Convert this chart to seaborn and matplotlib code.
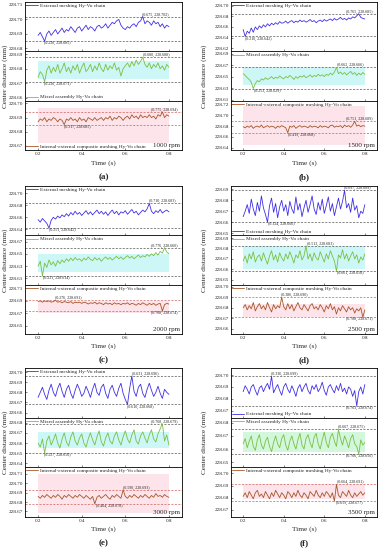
import numpy as np
import pandas as pd
import matplotlib
matplotlib.use("Agg")
import matplotlib.pyplot as plt
from matplotlib.ticker import FormatStrFormatter
import seaborn as sns

# time axis (s)
time = np.round(np.linspace(0.2, 0.8, 61), 3)

# center distance, micrometres above 228 mm
ext_1000 = [689, 691, 688, 685, 690, 692, 689, 691, 693, 690,
            692, 694, 691, 693, 692, 695, 693, 691, 694, 695,
            692, 694, 696, 693, 695, 694, 692, 695, 696, 694,
            695, 697, 694, 696, 698, 697, 699, 700, 696, 694,
            693, 695, 694, 696, 697, 695, 698, 699, 702, 697,
            699, 698, 696, 699, 697, 698, 695, 697, 694, 696, 695]
mix_1000 = [674, 678, 676, 671, 679, 682, 677, 681, 678, 683,
            677, 680, 684, 678, 681, 677, 682, 679, 683, 677,
            681, 684, 678, 680, 683, 678, 682, 679, 684, 680,
            678, 683, 679, 682, 680, 684, 679, 681, 675, 680,
            682, 684, 681, 685, 682, 686, 683, 685, 688, 683,
            681, 684, 680, 683, 681, 684, 680, 682, 679, 683, 681]
comp_1000 = [687, 689, 688, 690, 687, 689, 688, 690, 689, 687,
             689, 688, 685, 689, 688, 690, 688, 689, 687, 690,
             688, 689, 687, 690, 689, 688, 690, 688, 689, 690,
             688, 690, 689, 691, 688, 690, 689, 691, 690, 688,
             690, 691, 689, 692, 690, 691, 689, 692, 690, 691,
             690, 692, 690, 691, 689, 692, 691, 694, 690, 692, 691]

ext_1500 = [655, 642, 652, 648, 658, 650, 660, 655, 662, 658,
            664, 660, 666, 662, 667, 664, 668, 665, 670, 667,
            668, 671, 667, 670, 672, 668, 671, 669, 673, 670,
            672, 669, 671, 674, 670, 672, 668, 671, 673, 670,
            674, 671, 673, 675, 672, 676, 673, 675, 678, 674,
            676, 673, 677, 675, 679, 677, 681, 685, 678, 676, 675]
mix_1500 = [655, 652, 648, 645, 640, 629, 638, 643, 641, 646,
            644, 648, 645, 647, 650, 646, 649, 647, 651, 648,
            646, 650, 648, 652, 649, 645, 650, 647, 651, 649,
            652, 648, 650, 653, 649, 652, 650, 654, 651, 653,
            650, 654, 652, 656, 653, 658, 666, 655, 658, 654,
            657, 653, 656, 659, 654, 657, 652, 656, 653, 657, 654]
comp_1500 = [679, 677, 680, 678, 681, 676, 679, 680, 678, 682,
             677, 679, 681, 678, 680, 679, 676, 680, 678, 681,
             679, 677, 668, 680, 678, 681, 676, 679, 681, 678,
             680, 679, 677, 681, 678, 680, 679, 677, 681, 678,
             680, 679, 677, 681, 682, 678, 680, 679, 681, 677,
             682, 679, 681, 678, 682, 689, 680, 682, 679, 681, 680]

ext_2000 = [656, 652, 658, 654, 650, 642, 655, 660, 657, 662,
            659, 664, 661, 666, 662, 668, 664, 670, 665, 668,
            663, 667, 671, 665, 669, 664, 668, 672, 666, 670,
            665, 669, 663, 668, 672, 666, 670, 664, 669, 667,
            671, 665, 669, 673, 667, 670, 664, 668, 672, 669,
            674, 683, 670, 666, 671, 668, 673, 667, 670, 672, 669]
mix_2000 = [630, 638, 614, 635, 628, 640, 632, 637, 630, 639,
            634, 640, 636, 642, 638, 643, 639, 644, 640, 642,
            638, 643, 640, 645, 641, 639, 644, 640, 643, 638,
            642, 645, 641, 644, 640, 643, 646, 642, 645, 641,
            644, 647, 643, 646, 642, 645, 648, 644, 647, 645,
            649, 646, 650, 647, 652, 648, 654, 651, 660, 653, 650]
comp_2000 = [689, 690, 688, 690, 689, 690, 688, 689, 691, 688,
             689, 687, 689, 688, 687, 689, 686, 688, 687, 688,
             686, 688, 687, 685, 687, 686, 688, 685, 687, 686,
             684, 687, 685, 686, 684, 687, 685, 686, 684, 686,
             685, 687, 684, 686, 685, 683, 686, 684, 687, 685,
             683, 686, 684, 686, 683, 685, 686, 674, 684, 686, 685]

ext_2500 = [665, 670, 676, 668, 681, 672, 666, 678, 670, 684,
            673, 667, 660, 675, 682, 669, 677, 664, 674, 680,
            670, 676, 666, 679, 672, 668, 683, 671, 677, 665,
            673, 680, 669, 676, 684, 672, 667, 678, 671, 681,
            668, 675, 683, 670, 677, 666, 674, 682, 672, 679,
            689, 673, 677, 669, 682, 671, 675, 664, 670, 668, 676]
mix_2500 = [668, 673, 666, 675, 670, 677, 667, 672, 674, 668,
            676, 670, 665, 673, 678, 669, 674, 667, 676, 671,
            668, 675, 670, 677, 672, 666, 674, 671, 678, 669,
            673, 683, 670, 675, 668, 676, 671, 669, 677, 672,
            667, 675, 670, 678, 673, 668, 658, 674, 671, 679,
            670, 675, 668, 673, 677, 670, 674, 666, 672, 669, 675]
comp_2500 = [680, 683, 678, 682, 679, 685, 677, 681, 684, 679,
             682, 678, 685, 680, 676, 683, 679, 682, 680, 690,
             681, 678, 684, 679, 683, 677, 681, 685, 680, 678,
             683, 680, 677, 682, 684, 679, 681, 678, 683, 680,
             676, 682, 679, 684, 678, 681, 674, 680, 677, 682,
             679, 676, 681, 678, 680, 675, 679, 677, 680, 671, 678]

ext_3000 = [675, 680, 685, 678, 673, 682, 688, 680, 676, 684,
            689, 681, 675, 683, 687, 679, 674, 682, 688, 683,
            676, 679, 686, 681, 675, 683, 689, 680, 677, 685,
            688, 679, 674, 683, 687, 680, 676, 684, 689, 679,
            673, 668, 684, 696, 681, 676, 685, 688, 679, 675,
            683, 689, 682, 676, 680, 686, 679, 674, 683, 680, 678]
mix_3000 = [660, 656, 664, 650, 662, 667, 658, 663, 669, 660,
            655, 664, 670, 661, 657, 666, 671, 662, 658, 665,
            669, 660, 656, 664, 670, 663, 658, 666, 672, 661,
            657, 665, 670, 662, 659, 667, 671, 663, 658, 666,
            672, 664, 660, 668, 673, 662, 659, 667, 671, 665,
            660, 668, 673, 664, 661, 669, 674, 679, 662, 668, 658]
comp_3000 = [686, 684, 687, 685, 688, 686, 684, 687, 685, 688,
             686, 683, 687, 685, 688, 686, 684, 687, 685, 688,
             686, 684, 687, 685, 683, 686, 678, 685, 687, 684,
             686, 688, 685, 683, 687, 685, 688, 686, 684, 693,
             686, 684, 687, 685, 688, 686, 684, 687, 685, 688,
             686, 684, 687, 685, 689, 686, 687, 685, 688, 686, 685]

ext_3500 = [686, 691, 688, 684, 690, 692, 687, 683, 689, 691,
            686, 690, 693, 688, 699, 685, 689, 692, 687, 683,
            690, 693, 688, 685, 691, 687, 682, 689, 692, 686,
            690, 693, 687, 684, 691, 688, 692, 686, 689, 694,
            687, 683, 690, 692, 688, 685, 691, 687, 693, 686,
            689, 684, 690, 688, 682, 687, 674, 686, 690, 684, 692]
mix_3500 = [664, 668, 661, 666, 670, 662, 659, 667, 671, 663,
            660, 666, 669, 662, 658, 665, 670, 664, 661, 668,
            671, 663, 659, 666, 670, 664, 660, 667, 672, 663,
            660, 668, 671, 665, 661, 669, 672, 664, 660, 667,
            673, 665, 661, 669, 672, 666, 662, 675, 668, 663,
            670, 666, 661, 668, 671, 664, 662, 656, 667, 663, 665]
comp_3500 = [681, 684, 680, 685, 682, 679, 684, 686, 681, 683,
             680, 685, 682, 679, 684, 681, 686, 683, 680, 684,
             682, 679, 685, 683, 680, 684, 681, 686, 682, 680,
             684, 682, 679, 685, 683, 681, 686, 682, 680, 684,
             681, 685, 683, 680, 684, 677, 691, 682, 680, 685,
             683, 681, 686, 682, 680, 684, 681, 683, 685, 682, 684]

# annotated extremes: (t_max, max, t_min, min)
peaks_1000 = [(0.675, 228.702, 0.226, 228.685), (0.680, 228.688, 0.226, 228.671), (0.775, 228.694, 0.317, 228.685)]
peaks_1500 = [(0.765, 228.685, 0.210, 228.642), (0.662, 228.666, 0.253, 228.629), (0.751, 228.689, 0.419, 228.668)]
peaks_2000 = [(0.710, 228.683, 0.251, 228.642), (0.776, 228.660, 0.221, 228.614), (0.276, 228.691, 0.768, 228.674)]
peaks_2500 = [(0.697, 228.689, 0.324, 228.660), (0.513, 228.683, 0.661, 228.658), (0.386, 228.690, 0.788, 228.671)]
peaks_3000 = [(0.631, 228.696, 0.610, 228.668), (0.768, 228.679, 0.227, 228.650), (0.590, 228.693, 0.464, 228.678)]
peaks_3500 = [(0.336, 228.699, 0.763, 228.674), (0.667, 228.675, 0.766, 228.656), (0.664, 228.691, 0.659, 228.677)]

chains = ["External meshing Hy-Vo chain", "Mixed assembly Hy-Vo chain",
          "Internal-external composite meshing Hy-Vo chain"]
speeds = ["1000 rpm", "1500 rpm", "2000 rpm", "2500 rpm", "3000 rpm", "3500 rpm"]
tags = ["(a)", "(b)", "(c)", "(d)", "(e)", "(f)"]

series = [[ext_1000, mix_1000, comp_1000], [ext_1500, mix_1500, comp_1500],
          [ext_2000, mix_2000, comp_2000], [ext_2500, mix_2500, comp_2500],
          [ext_3000, mix_3000, comp_3000], [ext_3500, mix_3500, comp_3500]]
peaks = [peaks_1000, peaks_1500, peaks_2000, peaks_2500, peaks_3000, peaks_3500]

# layout: y limits, y ticks (start, stop, step), legend corner, band
ylims = [[(228.678, 228.712), (228.658, 228.692), (228.667, 228.702)],
         [(228.614, 228.707), (228.608, 228.694), (228.636, 228.727)],
         [(228.630, 228.712), (228.600, 228.680), (228.637, 228.716)],
         [(228.648, 228.693), (228.645, 228.693), (228.655, 228.702)],
         [(228.655, 228.704), (228.636, 228.685), (228.664, 228.717)],
         [(228.664, 228.706), (228.646, 228.684), (228.664, 228.705)]]
yticks = [[(228.68, 228.71, 0.01), (228.66, 228.69, 0.01), (228.67, 228.70, 0.01)],
          [(228.62, 228.70, 0.02), (228.61, 228.69, 0.02), (228.64, 228.72, 0.02)],
          [(228.64, 228.70, 0.02), (228.61, 228.67, 0.02), (228.65, 228.71, 0.02)],
          [(228.65, 228.69, 0.01), (228.65, 228.69, 0.01), (228.66, 228.70, 0.01)],
          [(228.66, 228.70, 0.01), (228.64, 228.68, 0.01), (228.67, 228.71, 0.01)],
          [(228.67, 228.70, 0.01), (228.65, 228.68, 0.01), (228.67, 228.70, 0.01)]]
legend_loc = [["upper left", "lower left", "lower left"],
              ["upper left"] * 3, ["upper left"] * 3,
              ["lower left", "upper left", "upper left"],
              ["upper left"] * 3,
              ["lower left", "upper left", "upper left"]]
bands = [[(228.673, 228.685), (228.672, 228.697)],
         [(228.636, 228.667), (228.645, 228.718)],
         [(228.620, 228.650), (228.670, 228.690)],
         [(228.660, 228.683), (228.671, 228.684)],
         [(228.655, 228.671), (228.668, 228.710)],
         [(228.658, 228.673), (228.679, 228.691)]]

line_colors = ["#3f2fe6", "#79c043", "#a4572a"]
band_colors = ["#cdf6f6", "#fde3ea"]
dash_colors = ["#555555", "#555555", "#d0605a"]

sns.set_style("ticks")
plt.rcParams["font.family"] = ["Liberation Serif", "DejaVu Serif"]

W, H = 384, 550
fig = plt.figure(figsize=(W / 100, H / 100), dpi=100)

col_x = [(25, 182), (231, 377)]
row_y = [(2, 150, 163, 177), (186, 334, 346, 360), (368, 517, 529, 543)]

for k in range(6):
    r, c = divmod(k, 2)
    x0, x1 = col_x[c]
    top, bot, tlab, plab = row_y[r]
    h = (bot - top) / 3
    for j in range(3):
        y_top = top + j * h
        ax = fig.add_axes([x0 / W, 1 - (y_top + h) / H, (x1 - x0) / W, h / H])
        df = pd.DataFrame({"t": time, "d": 228 + np.array(series[k][j]) / 1000})

        if j > 0:
            bc = "#d3f7dc" if (k == 5 and j == 1) else band_colors[j - 1]
            lo, hi = bands[k][j - 1]
            ax.fill_between([0.2, 0.8], lo, hi, color=bc, lw=0, zorder=0)

        sns.lineplot(data=df, x="t", y="d", ax=ax, color=line_colors[j],
                     lw=0.6, label=chains[j], zorder=3)

        tmax, vmax, tmin, vmin = peaks[k][j]
        for tt, vv, va in [(tmax, vmax, "bottom"), (tmin, vmin, "top")]:
            ax.axhline(vv, ls=(0, (3, 2)), lw=0.5, color=dash_colors[j], zorder=2)
            if tt > 0.72:
                xt, ha = 0.84, "right"
            else:
                xt, ha = tt, "left"
            ax.text(xt, vv, f"({tt:.3f}, {vv:.3f})", fontsize=2.9, ha=ha, va=va,
                    color="#222222", zorder=4)

        ax.set_xlim(0.14, 0.86)
        ax.set_ylim(*ylims[k][j])
        a, b, s = yticks[k][j]
        ax.set_yticks(np.round(np.arange(a, b + s / 2, s), 2))
        ax.yaxis.set_major_formatter(FormatStrFormatter("%.2f"))
        ax.set_xticks([0.2, 0.4, 0.6, 0.8])
        ax.set_xlabel("")
        ax.set_ylabel("")
        ax.tick_params(labelsize=3.7, length=1.5, width=0.4, pad=1.5, direction="in")
        if j < 2:
            ax.tick_params(labelbottom=False)
        for sp in ax.spines.values():
            sp.set_linewidth(0.6)
            sp.set_color("black")
        ax.legend(loc=legend_loc[k][j], frameon=False, fontsize=3.8, handlelength=2.2,
                  handletextpad=0.4, borderaxespad=0.15, borderpad=0.1)
        if j == 2:
            ax.text(0.985, 0.04, speeds[k], transform=ax.transAxes, fontsize=5,
                    ha="right", va="bottom", zorder=5)

    xm = (x0 + x1) / 2 / W
    fig.text(xm, 1 - tlab / H, "Time (s)", fontsize=5.2, ha="center", va="center")
    fig.text(xm, 1 - plab / H, tags[k], fontsize=6.5, fontweight="bold",
             ha="center", va="center")
    ylx = 5 if c == 0 else 204
    fig.text(ylx / W, 1 - (top + bot) / 2 / H, "Center distance (mm)", fontsize=5.2,
             rotation=90, ha="center", va="center")

fig.savefig("out.png", dpi=100)
